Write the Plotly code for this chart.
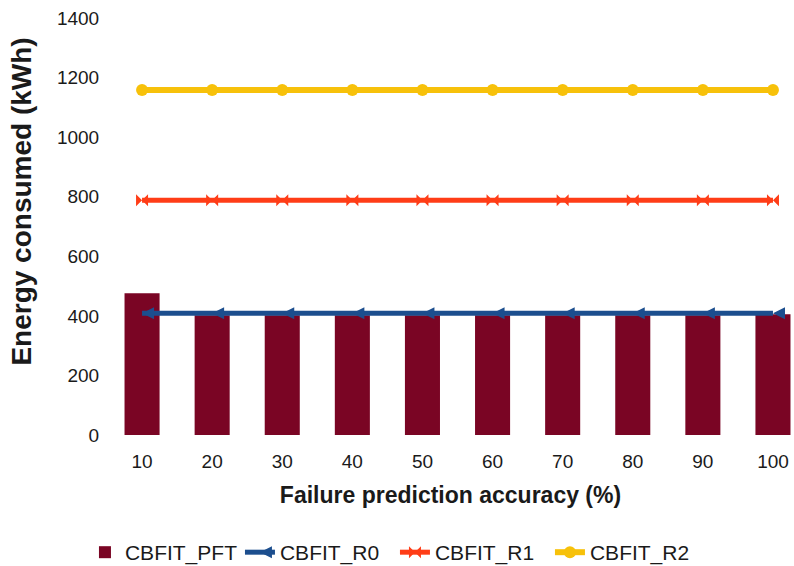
import plotly.graph_objects as go

accuracy = ["10", "20", "30", "40", "50", "60", "70", "80", "90", "100"]
cbfit_pft = [476, 402, 402, 402, 402, 402, 402, 402, 402, 405]
cbfit_r0 = [409] * 10
cbfit_r1 = [788] * 10
cbfit_r2 = [1158] * 10
y_ticks = [0, 200, 400, 600, 800, 1000, 1200, 1400]

FONT = "Liberation Sans, Arial, sans-serif"

fig = go.Figure()
fig.add_trace(go.Bar(x=accuracy, y=cbfit_pft, name="CBFIT_PFT",
                     marker=dict(color="#7A0524", line=dict(width=0)), width=0.5))
fig.add_trace(go.Scatter(x=accuracy, y=cbfit_r0, name="CBFIT_R0", mode="lines+markers",
                         line=dict(color="#1C4E8E", width=5),
                         marker=dict(symbol="arrow-left", size=12, color="#1C4E8E")))
fig.add_trace(go.Scatter(x=accuracy, y=cbfit_r1, name="CBFIT_R1", mode="lines+markers",
                         line=dict(color="#FF3D17", width=5),
                         marker=dict(symbol="bowtie", size=12, color="#FF3D17")))
fig.add_trace(go.Scatter(x=accuracy, y=cbfit_r2, name="CBFIT_R2", mode="lines+markers",
                         line=dict(color="#F7C10A", width=6),
                         marker=dict(symbol="circle", size=12, color="#F7C10A")))

# vertical axis title, placed slightly above the plot's mid-height
fig.add_annotation(text="<b>Energy consumed (kWh)</b>", textangle=-90,
                   xref="paper", yref="paper", x=-0.125, y=0.56,
                   xanchor="center", yanchor="middle", showarrow=False,
                   font=dict(size=28, family=FONT, color="#1a1a1a"))

fig.update_layout(
    width=794, height=566,
    margin=dict(l=107, r=0, t=18, b=131, autoexpand=False),
    plot_bgcolor="white", paper_bgcolor="white",
    font=dict(family=FONT, size=19, color="#1a1a1a"),
    bargap=0.5,
    showlegend=True,
    legend=dict(orientation="h", xref="container", yref="container",
                x=0.107, xanchor="left", y=0.06, yanchor="top",
                font=dict(size=21), itemwidth=30, entrywidth=110,
                traceorder="normal"),
    xaxis=dict(type="category", range=[-0.5, 9.3], showgrid=False, zeroline=False,
               showline=False, ticks="outside", ticklen=9, tickcolor="white",
               tickfont=dict(size=19),
               title=dict(text="<b>Failure prediction accuracy (%)</b>",
                          font=dict(size=23), standoff=16)),
    yaxis=dict(range=[0, 1400], tickvals=y_ticks, showgrid=False, zeroline=False,
               showline=False, ticks="outside", ticklen=3, tickcolor="white",
               tickfont=dict(size=19)),
)

fig.write_html("out.html")
